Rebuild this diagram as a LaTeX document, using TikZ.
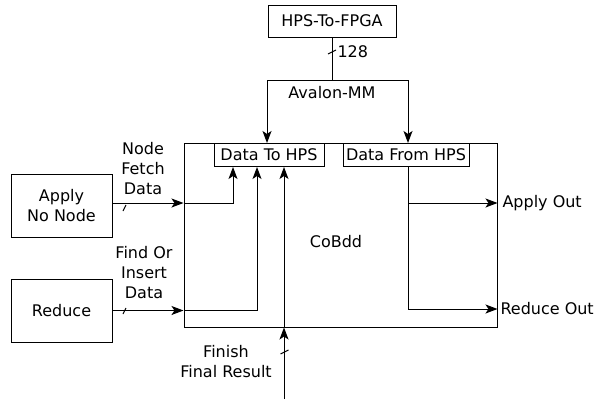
\documentclass[tikz,border=0pt]{standalone}
\usepackage{fontspec}
\setmainfont{DejaVu Sans}
\usetikzlibrary{positioning,arrows.meta}
\newcommand{\htick}[1]{\draw (#1) +(-1.5,3) -- +(1.5,-3);}
\newcommand{\vtick}[1]{\draw (#1) +(-4,2) -- +(4,-2);}

\begin{document}
\begin{tikzpicture}[
  x=1pt, y=-1pt,
  line width=1pt,
  font=\fontsize{16}{20}\selectfont,
  box/.style={draw, inner sep=0pt, align=center},
  lbl/.style={inner sep=1pt, align=center},
  >={Stealth[length=12pt, width=9pt, inset=3pt]}
]
\useasboundingbox (0,0) rectangle (605,399);
\node[box, minimum width=128pt, minimum height=32pt] (hps) at (332,21) {HPS-To-FPGA};
\node[box, minimum width=313pt, minimum height=184pt] (cobdd) at (340.5,235) {};
\node[lbl] (cobddlbl) at (336,242) {CoBdd};
\node[box, minimum width=110pt, minimum height=23pt, anchor=north] (tohps) at (269,143) {Data To HPS};
\node[box, minimum width=126pt, minimum height=23pt, anchor=north] (fromhps) at (406,143) {Data From HPS};
\node[box, minimum width=101pt, minimum height=63pt] (apply) at (61.5,205.5) {Apply\\No Node};
\node[box, minimum width=101pt, minimum height=63pt] (reduce) at (61.5,310.5) {Reduce};
% bus from the bridge
\coordinate (split) at (332,80);
\draw (hps.south) -- (split);
\vtick{332,52}
\node[lbl, anchor=west] (width) at (336,52) {128};
\node[lbl] (avalon) at (332,93) {Avalon-MM};
\draw[->] (split) -| ([xshift=-2pt]tohps.north);
\draw[->] (split) -| ([xshift=2pt]fromhps.north);
% inputs
\coordinate (applyin) at ([yshift=2.5pt]apply.east -| cobdd.west);
\draw[->] ([yshift=2.5pt]apply.east) -- (applyin);
\htick{124.5,208}
\draw[->] (applyin) -| ([xshift=-36pt]tohps.south);
\node[lbl] (fetch) at (143,169) {Node\\Fetch\\Data};
\coordinate (reducein) at (reduce.east -| cobdd.west);
\draw[->] (reduce.east) -- (reducein);
\htick{124.5,311}
\draw[->] (reducein) -| ([xshift=-12pt]tohps.south);
\node[lbl] (find) at (144,273) {Find Or\\Insert\\Data};
\coordinate (finish) at (284,399);
\coordinate (finishin) at (finish |- cobdd.south);
\draw[->] (finish) -- (finishin);
\vtick{284.5,352}
\draw[->] (finishin) -- (finish |- tohps.south);
\node[lbl] (final) at (226,361.5) {Finish\\Final Result};
% outputs
\coordinate (outsplit) at ([xshift=2pt]fromhps.south |- 0,309);
\draw ([xshift=2pt]fromhps.south) -- (outsplit);
\draw[->] ([xshift=2pt]fromhps.south |- 0,203) -- (cobdd.east |- 0,203);
\draw[->] (outsplit) -- (cobdd.east |- outsplit);
\node[lbl, anchor=west] (applyout) at (501,203) {Apply Out};
\node[lbl, anchor=west] (reduceout) at (499,309) {Reduce Out};
\end{tikzpicture}
\end{document}
